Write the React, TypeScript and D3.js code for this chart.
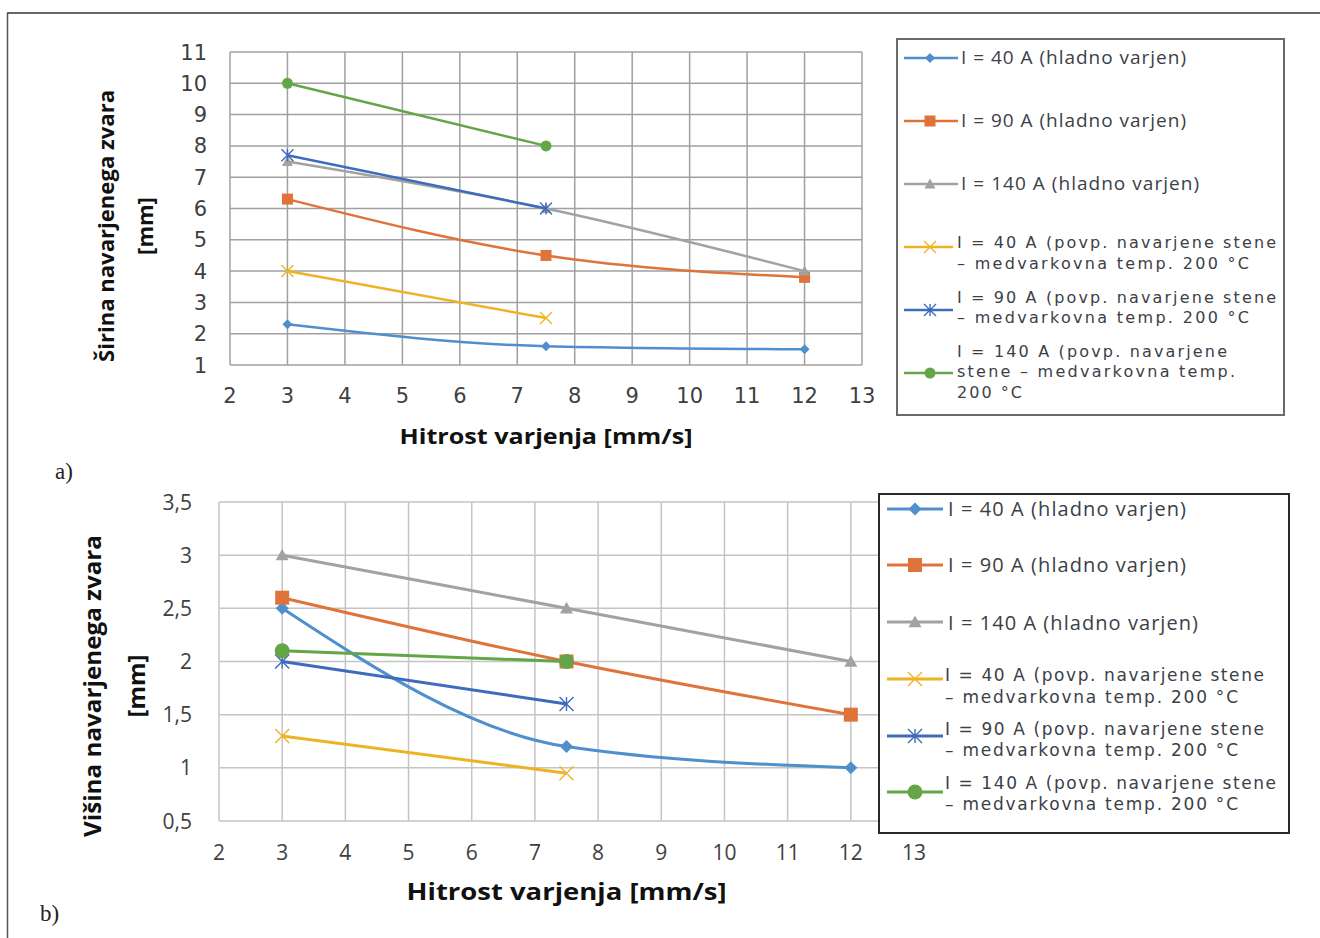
import React from 'react'
import * as d3 from 'd3'

// x axis: hitrost varjenja [mm/s]
const hitrost = [3, 7.5, 12]
const hitrostTicks = [2, 3, 4, 5, 6, 7, 8, 9, 10, 11, 12, 13]

// a) širina navarjenega zvara [mm]
const sirinaTicks = [1, 2, 3, 4, 5, 6, 7, 8, 9, 10, 11]
const sirina40 = [2.3, 1.6, 1.5]
const sirina90 = [6.3, 4.5, 3.8]
const sirina140 = [7.5, 6.0, 4.0]
const sirina40T = [4.0, 2.5]
const sirina90T = [7.7, 6.0]
const sirina140T = [10.0, 8.0]

// b) višina navarjenega zvara [mm]
const visinaTicks = [0.5, 1, 1.5, 2, 2.5, 3, 3.5]
const visina40 = [2.5, 1.2, 1.0]
const visina90 = [2.6, 2.0, 1.5]
const visina140 = [3.0, 2.5, 2.0]
const visina40T = [1.3, 0.95]
const visina90T = [2.0, 1.6]
const visina140T = [2.1, 2.0]

const seriesColors = ['#4f8fcc', '#e0733a', '#a2a2a2', '#eeb324', '#3e6bbd', '#63a547']
const seriesMarkers = ['diamond', 'square', 'triangle', 'x', 'asterisk', 'circle']

const legendTop = [
  ['I = 40 A (hladno varjen)'],
  ['I = 90 A (hladno varjen)'],
  ['I = 140 A (hladno varjen)'],
  ['I = 40 A (povp. navarjene stene', '– medvarkovna temp. 200 °C'],
  ['I = 90 A (povp. navarjene stene', '– medvarkovna temp. 200 °C'],
  ['I = 140 A (povp. navarjene', 'stene – medvarkovna temp.', '200 °C'],
]
const legendBottom = [
  ['I = 40 A (hladno varjen)'],
  ['I = 90 A (hladno varjen)'],
  ['I = 140 A (hladno varjen)'],
  ['I = 40 A (povp. navarjene stene', '– medvarkovna temp. 200 °C'],
  ['I = 90 A (povp. navarjene stene', '– medvarkovna temp. 200 °C'],
  ['I = 140 A (povp. navarjene stene', '– medvarkovna temp. 200 °C'],
]

const OPEN = "'Open Sans', 'DejaVu Sans', sans-serif"
const DEJA = "'DejaVu Sans', Verdana, sans-serif"

function Marker({ type, x, y, s, color }) {
  const h = s / 2
  switch (type) {
    case 'diamond':
      return <polygon points={`${x},${y - h} ${x + h},${y} ${x},${y + h} ${x - h},${y}`} fill={color} />
    case 'square':
      return <rect x={x - h} y={y - h} width={s} height={s} fill={color} />
    case 'triangle':
      return <polygon points={`${x},${y - h} ${x + h},${y + h * 0.8} ${x - h},${y + h * 0.8}`} fill={color} />
    case 'x':
      return <path d={`M${x - h},${y - h}L${x + h},${y + h}M${x + h},${y - h}L${x - h},${y + h}`} stroke={color} strokeWidth={1.4} />
    case 'asterisk':
      return <path d={`M${x - h},${y - h}L${x + h},${y + h}M${x + h},${y - h}L${x - h},${y + h}M${x},${y - h}L${x},${y + h}`} stroke={color} strokeWidth={1.4} />
    default:
      return <circle cx={x} cy={y} r={h} fill={color} />
  }
}

function Chart({ cfg }) {
  const x = d3.scaleLinear().domain([2, 13]).range([cfg.l, cfg.r])
  const y = d3.scaleLinear().domain(cfg.yDomain).range([cfg.b, cfg.t])
  const line = d3.line().x(d => x(d[0])).y(d => y(d[1])).curve(d3.curveMonotoneX)
  const lg = cfg.legend
  return (
    <g>
      {cfg.yTicks.map(v => (
        <line key={'h' + v} x1={cfg.l} x2={cfg.r} y1={y(v)} y2={y(v)} stroke={cfg.grid} strokeWidth={cfg.gridW} />
      ))}
      {hitrostTicks.map(v => (
        <line key={'v' + v} x1={x(v)} x2={x(v)} y1={cfg.t} y2={cfg.b} stroke={cfg.grid} strokeWidth={cfg.gridW} />
      ))}
      {cfg.yTicks.map(v => (
        <text key={'yl' + v} x={cfg.yLabelX} y={y(v) + cfg.tickSize * 0.36} textAnchor="end"
          fontFamily={cfg.tickFont} fontSize={cfg.tickSize} fill="#404040">{cfg.fmt(v)}</text>
      ))}
      {hitrostTicks.map(v => (
        <text key={'xl' + v} x={x(v)} y={cfg.xLabelY} textAnchor="middle"
          fontFamily={cfg.tickFont} fontSize={cfg.tickSize} fill="#404040">{v}</text>
      ))}
      {cfg.series.map((vals, i) => {
        const pts = vals.map((v, j) => [hitrost[j], v])
        return (
          <g key={'s' + i}>
            <path d={line(pts)} fill="none" stroke={seriesColors[i]} strokeWidth={cfg.lineW} />
            {pts.map((p, j) => (
              <Marker key={j} type={seriesMarkers[i]} x={x(p[0])} y={y(p[1])} s={cfg.markerS[i]} color={seriesColors[i]} />
            ))}
          </g>
        )
      })}
      {/* axis titles */}
      <text x={(cfg.l + cfg.r) / 2 + cfg.xTitleDx} y={cfg.xTitleY} textAnchor="middle" fontFamily={OPEN} fontWeight="bold"
        fontSize={cfg.xTitleSize} fill="#111" textLength={cfg.xTitleLen} lengthAdjust="spacingAndGlyphs">Hitrost varjenja [mm/s]</text>
      <text transform={`translate(${cfg.yTitleX[0]},${cfg.yTitleCy}) rotate(-90)`} textAnchor="middle" fontFamily={OPEN}
        fontWeight="bold" fontSize={cfg.yTitleSize} fill="#111" textLength={cfg.yTitleLen}
        lengthAdjust="spacingAndGlyphs">{cfg.yTitle}</text>
      <text transform={`translate(${cfg.yTitleX[1]},${cfg.yTitleCy}) rotate(-90)`} textAnchor="middle" fontFamily={OPEN}
        fontWeight="bold" fontSize={cfg.yTitleSize} fill="#111">[mm]</text>
      {/* legend */}
      <rect x={lg.x} y={lg.y} width={lg.w} height={lg.h} fill="#fff" stroke={lg.stroke} strokeWidth={2} />
      {lg.labels.map((lines, i) => (
        <g key={'lg' + i}>
          <line x1={lg.lineX[0]} x2={i < 3 ? lg.lineX[1] : lg.lineX[2]} y1={lg.rowY[i]} y2={lg.rowY[i]}
            stroke={seriesColors[i]} strokeWidth={cfg.lineW} />
          <Marker type={seriesMarkers[i]} x={lg.markX} y={lg.rowY[i]} s={cfg.markerS[i]} color={seriesColors[i]} />
          {lines.map((t, k) => (
            <text key={k} x={i < 3 ? lg.textX[0] : lg.textX[1]} y={lg.textY[i][k]}
              fontFamily={i < 3 ? OPEN : DEJA} fontSize={i < 3 ? lg.size[0] : lg.size[1]} fill="#3c4047"
              textLength={lg.textLen[i][k]} lengthAdjust="spacing">{t}</text>
          ))}
        </g>
      ))}
    </g>
  )
}

const topCfg = {
  l: 230, r: 862, t: 52, b: 365,
  yDomain: [1, 11], yTicks: sirinaTicks, fmt: v => String(v),
  series: [sirina40, sirina90, sirina140, sirina40T, sirina90T, sirina140T],
  grid: '#a0a0a0', gridW: 1.5, lineW: 2.5,
  markerS: [10, 11, 11, 12, 12, 11],
  tickFont: DEJA, tickSize: 21, yLabelX: 207, xLabelY: 403,
  xTitleDx: 0, xTitleY: 444, xTitleSize: 21, xTitleLen: 293,
  yTitle: 'Širina navarjenega zvara', yTitleX: [114, 153], yTitleCy: 226, yTitleSize: 22, yTitleLen: 272,
  legend: {
    x: 897, y: 39, w: 387, h: 376, stroke: '#6a6a6a', labels: legendTop,
    lineX: [904, 958, 953], markX: 930,
    rowY: [58, 121, 184, 247, 310, 373],
    textX: [961, 957], size: [19, 16],
    textY: [[64], [127], [190], [248, 269], [303, 323], [357, 377, 398]],
    textLen: [[225], [225], [238], [319, 292], [319, 292], [270, 278, 65]],
  },
}

const bottomCfg = {
  l: 219, r: 914, t: 502, b: 821,
  yDomain: [0.5, 3.5], yTicks: visinaTicks, fmt: v => String(v).replace('.', ','),
  series: [visina40, visina90, visina140, visina40T, visina90T, visina140T],
  grid: '#c4c4c4', gridW: 1.5, lineW: 3,
  markerS: [13, 14, 13, 14, 14, 15],
  tickFont: OPEN, tickSize: 21, yLabelX: 192, xLabelY: 860,
  xTitleDx: 0, xTitleY: 900, xTitleSize: 23, xTitleLen: 320,
  yTitle: 'Višina navarjenega zvara', yTitleX: [101, 145], yTitleCy: 686, yTitleSize: 24, yTitleLen: 302,
  legend: {
    x: 879, y: 494, w: 410, h: 339, stroke: '#2a2a2a', labels: legendBottom,
    lineX: [887, 943, 943], markX: 915,
    rowY: [509, 565, 622, 679, 736, 792],
    textX: [948, 945], size: [20, 17],
    textY: [[516], [572], [630], [681, 703], [735, 756], [789, 810]],
    textLen: [[238], [238], [250], [319, 293], [319, 293], [331, 293]],
  },
}

export default function App() {
  return (
    <svg width={1320} height={938} style={{ position: 'absolute', left: 0, top: 0, background: '#fff' }}>
      <rect x={0} y={0} width={1320} height={938} fill="#fff" />
      <line x1={7} x2={1320} y1={13} y2={13} stroke="#333" strokeWidth={1.5} />
      <line x1={7.5} x2={7.5} y1={13} y2={938} stroke="#555" strokeWidth={1.5} />
      <Chart cfg={topCfg} />
      <Chart cfg={bottomCfg} />
      <text x={55} y={479} fontFamily="'Liberation Serif', serif" fontSize={23} fill="#222">a)</text>
      <text x={40} y={921} fontFamily="'Liberation Serif', serif" fontSize={23} fill="#222">b)</text>
    </svg>
  )
}
